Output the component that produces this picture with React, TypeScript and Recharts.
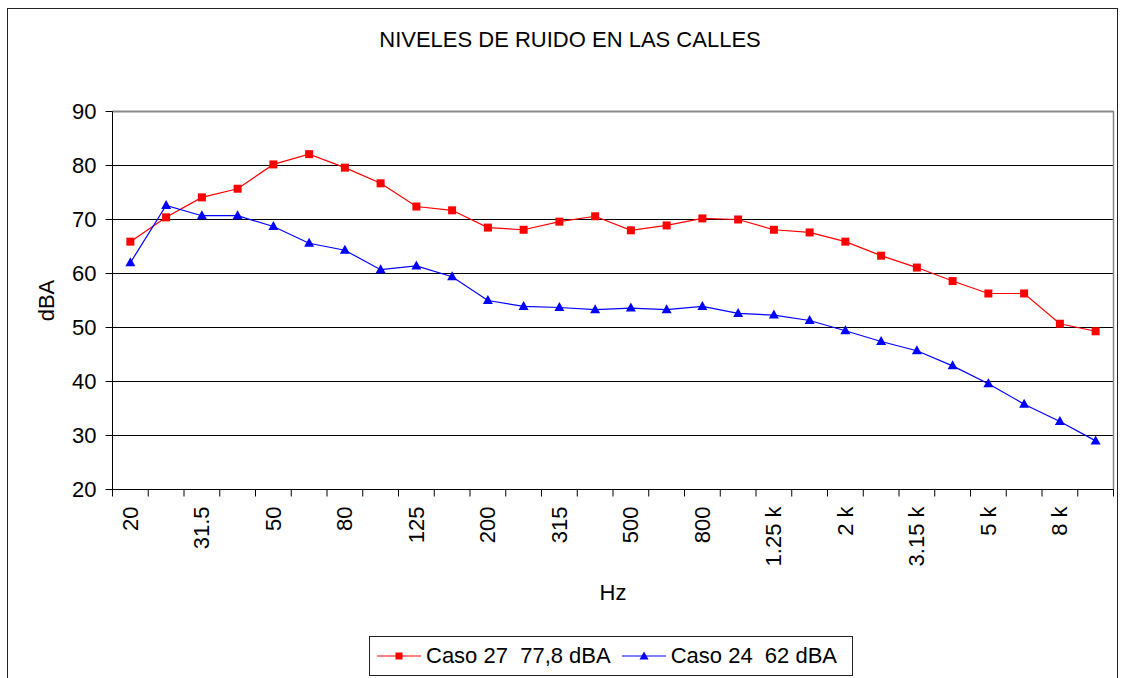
import { LineChart, Line, XAxis, YAxis, CartesianGrid, ReferenceLine } from "recharts";

const frequencies = [
  "20", "25", "31.5", "40", "50", "63", "80", "100", "125", "160",
  "200", "250", "315", "400", "500", "630", "800", "1 k", "1.25 k", "1.6 k",
  "2 k", "2.5 k", "3.15 k", "4 k", "5 k", "6.3 k", "8 k", "10 k",
];

const caso27 = [
  65.9, 70.4, 74.1, 75.7, 80.2, 82.1, 79.6, 76.7, 72.4, 71.7,
  68.5, 68.1, 69.6, 70.6, 68.0, 68.9, 70.2, 70.0, 68.1, 67.6,
  65.9, 63.3, 61.1, 58.6, 56.3, 56.3, 50.7, 49.3,
];

const caso24 = [
  62.0, 72.6, 70.7, 70.7, 68.7, 65.6, 64.3, 60.7, 61.4, 59.4,
  55.0, 53.9, 53.7, 53.3, 53.6, 53.3, 53.9, 52.6, 52.3, 51.3,
  49.4, 47.4, 45.7, 42.9, 39.6, 35.8, 32.6, 29.0,
];

const yTicks = [20, 30, 40, 50, 60, 70, 80, 90];

const series = [
  { key: "caso27", name: "Caso 27  77,8 dBA", color: "#FF0000", marker: "square" },
  { key: "caso24", name: "Caso 24  62 dBA", color: "#0000FF", marker: "triangle" },
];

const W = 1123;
const H = 678;
const MARGIN = { top: 111.5, right: 9.5, left: 52.5, bottom: 78.5 };
const Y_AXIS_W = 60;
const PLOT_W = W - MARGIN.left - MARGIN.right - Y_AXIS_W;
const BAND = PLOT_W / frequencies.length;
const FONT = "'Liberation Sans', Arial, sans-serif";
const FS = 22;

const data = frequencies.map((hz, i) => ({
  pos: i + 0.5,
  hz,
  caso27: caso27[i],
  caso24: caso24[i],
}));

const boundaries = frequencies.map((_, i) => i).concat(frequencies.length);

const FreqTick = (props: any) => {
  const { x, y, payload } = props;
  const i = payload.value;
  if (i >= frequencies.length || i % 2 !== 0) return null;
  const cx = x + BAND / 2;
  return (
    <text
      x={cx}
      y={y}
      transform={`rotate(-90, ${cx}, ${y})`}
      textAnchor="end"
      dominantBaseline="central"
      fontSize={FS}
      fontFamily={FONT}
      fill="#000"
    >
      {frequencies[i]}
    </text>
  );
};

const Square = (props: any) => {
  const { cx, cy, index, fill } = props;
  if (cx == null || cy == null) return null;
  return <rect key={`s${index}`} x={cx - 4} y={cy - 4} width={8} height={8} fill={fill} />;
};

const Triangle = (props: any) => {
  const { cx, cy, index, fill } = props;
  if (cx == null || cy == null) return null;
  return (
    <polygon
      key={`t${index}`}
      points={`${cx},${cy - 5.5} ${cx - 5},${cy + 3.5} ${cx + 5},${cy + 3.5}`}
      fill={fill}
    />
  );
};

const LegendIcon = ({ color, marker }: { color: string; marker: string }) => (
  <svg width={44} height={12} style={{ display: "block" }}>
    <line x1={0} y1={6} x2={44} y2={6} stroke={color} strokeWidth={1.2} />
    {marker === "square" ? (
      <rect x={18.5} y={2.5} width={7} height={7} fill={color} />
    ) : (
      <polygon points="22,1.5 17.5,9.5 26.5,9.5" fill={color} />
    )}
  </svg>
);

export default function App() {
  return (
    <div
      style={{
        position: "absolute",
        left: 0,
        top: 0,
        width: W,
        height: H,
        overflow: "hidden",
        background: "#fff",
        fontFamily: FONT,
      }}
    >
      <div
        style={{
          position: "absolute",
          left: 7,
          top: 8,
          width: 1111,
          height: 720,
          border: "1.5px solid #222",
          boxSizing: "border-box",
        }}
      />
      <div
        style={{
          position: "absolute",
          left: 0,
          width: 1140,
          top: 26,
          textAlign: "center",
          fontSize: FS,
          color: "#000",
          lineHeight: "28px",
        }}
      >
        NIVELES DE RUIDO EN LAS CALLES
      </div>
      <div style={{ position: "absolute", left: 0, top: 0 }}>
        <LineChart width={W} height={H} data={data} margin={MARGIN}>
          <CartesianGrid vertical={false} stroke="#000" strokeWidth={1} />
          <XAxis
            type="number"
            dataKey="pos"
            domain={[0, frequencies.length]}
            ticks={boundaries}
            interval={0}
            tick={<FreqTick />}
            tickSize={7}
            tickMargin={10}
            tickLine={{ stroke: "#000" }}
            axisLine={{ stroke: "#000" }}
            height={110}
            label={{
              value: "Hz",
              position: "insideBottom",
              offset: 0,
              fontSize: FS,
              fill: "#000",
              fontFamily: FONT,
            }}
          />
          <YAxis
            domain={[20, 90]}
            ticks={yTicks}
            interval={0}
            width={Y_AXIS_W}
            tickSize={7}
            tickMargin={9}
            tickLine={{ stroke: "#000" }}
            axisLine={{ stroke: "#000" }}
            tick={{ fontSize: FS, fill: "#000", fontFamily: FONT }}
            label={(p: any) => {
              const vb = p.viewBox || {};
              const cy = (vb.y ?? 112) + (vb.height ?? 378) / 2;
              return (
                <text
                  x={46}
                  y={cy}
                  transform={`rotate(-90, 46, ${cy})`}
                  textAnchor="middle"
                  dominantBaseline="central"
                  fontSize={FS}
                  fontFamily={FONT}
                  fill="#000"
                >
                  dBA
                </text>
              );
            }}
          />
          <ReferenceLine y={90} stroke="#888" strokeWidth={2} />
          <ReferenceLine x={frequencies.length} stroke="#888" strokeWidth={1.5} />
          {series.map((s) => (
            <Line
              key={s.key}
              type="linear"
              dataKey={s.key}
              name={s.name}
              stroke={s.color}
              strokeWidth={1.2}
              fill={s.color}
              dot={s.marker === "square" ? <Square fill={s.color} /> : <Triangle fill={s.color} />}
              activeDot={false}
              isAnimationActive={false}
            />
          ))}
        </LineChart>
      </div>
      <div
        style={{
          position: "absolute",
          left: 369,
          top: 636,
          width: 484,
          height: 40,
          border: "1px solid #222",
          boxSizing: "border-box",
          display: "flex",
          alignItems: "center",
          paddingLeft: 7,
          fontSize: FS,
          color: "#000",
          whiteSpace: "pre",
        }}
      >
        {series.map((s, i) => (
          <div
            key={s.key}
            style={{ display: "flex", alignItems: "center", marginLeft: i === 0 ? 0 : 11 }}
          >
            <LegendIcon color={s.color} marker={s.marker} />
            <span style={{ marginLeft: 5 }}>{s.name}</span>
          </div>
        ))}
      </div>
    </div>
  );
}
